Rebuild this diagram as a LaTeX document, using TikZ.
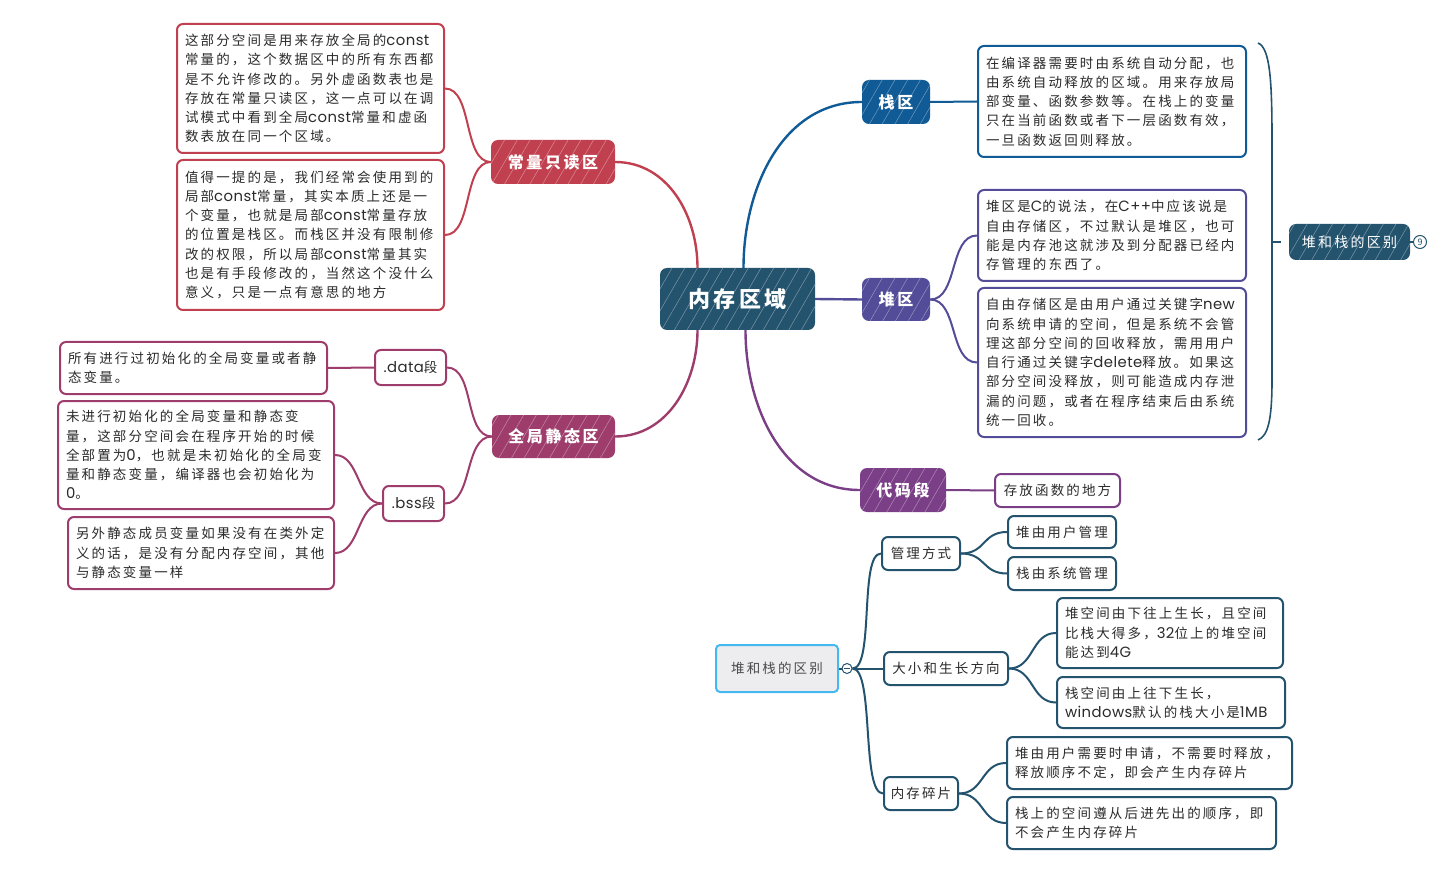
\documentclass[tikz,border=0pt]{standalone}
\usepackage{fontspec}
\setmainfont{Noto Sans CJK SC}[LetterSpace=16]
\newfontfamily\lat{Poppins}[Scale=1.1,LetterSpace=3]
\newcommand\la[1]{{\lat #1}}
\usetikzlibrary{patterns.meta}
\definecolor{cred}{HTML}{C1404F}
\definecolor{cmag}{HTML}{9E3C6C}
\definecolor{cblue}{HTML}{105A95}
\definecolor{cpur}{HTML}{534C98}
\definecolor{ccode}{HTML}{7B3F87}
\definecolor{cteal}{HTML}{24536E}
\definecolor{croot}{HTML}{EDECEF}
\definecolor{cedge}{HTML}{45B8F0}
\definecolor{ctext}{HTML}{2B2B2B}
\pgfdeclarelayer{bg}
\pgfsetlayers{bg,main}
\begin{document}
\begin{tikzpicture}[x=1pt,y=-1pt,
 hd/.style={fill=#1, rounded corners=7pt, text=white, inner sep=0pt,
   font=\bfseries\fontsize{16}{18}\selectfont,
   postaction={pattern={Lines[angle=60,distance=11pt,line width=0.5pt]}, pattern color=white!40!#1}},
 tb/.style={draw=#1, fill=white, line width=2pt, rounded corners=6pt, inner xsep=8pt, inner ysep=2pt,
   align=left, text=ctext, font=\fontsize{13.5}{19.3}\selectfont},
 sb/.style={draw=#1, fill=white, line width=2pt, rounded corners=6pt, inner sep=0pt,
   text=ctext, font=\fontsize{13.5}{16}\selectfont},
 ln/.style={draw=#1, line width=2.4pt},
 sl/.style={draw=#1, line width=2pt}]
\useasboundingbox (0,0) rectangle (1445,882);

% main topics
\node[hd=cteal, minimum width=155pt, minimum height=62pt, font=\bfseries\fontsize{22}{24}\selectfont] (c) at (737.5,299) {内存区域};
\node[hd=cred, minimum width=124pt, minimum height=44pt] (cr) at (553,162) {常量只读区};
\node[hd=cmag, minimum width=123pt, minimum height=43pt] (qj) at (553.5,436.5) {全局静态区};
\node[hd=cblue, minimum width=68pt, minimum height=44pt] (sz) at (896,102) {栈区};
\node[hd=cpur, minimum width=68pt, minimum height=43pt] (dz) at (896,299.5) {堆区};
\node[hd=ccode, minimum width=86pt, minimum height=44pt] (dm) at (903,490) {代码段};
\node[hd=cteal, minimum width=121pt, minimum height=36pt, font=\fontsize{14}{16}\selectfont] (sum) at (1349.5,242) {堆和栈的区别};
\node[circle, draw=cteal, fill=white, line width=1pt, minimum size=13pt, inner sep=0pt, text=cteal, font=\fontsize{9}{9}\selectfont] (num) at (1420,242) {9};

% red texts
\node[tb=cred, text width=251pt, minimum height=129pt] (t1) at (310.5,88.5) {这部分空间是用来存放全局的\la{const}\\常量的，这个数据区中的所有东西都\\是不允许修改的。另外虚函数表也是\\存放在常量只读区，这一点可以在调\\试模式中看到全局\la{const}常量和虚函\\数表放在同一个区域。};
\node[tb=cred, text width=251pt, minimum height=150pt] (t2) at (310.5,235) {值得一提的是，我们经常会使用到的\\局部\la{const}常量，其实本质上还是一\\个变量，也就是局部\la{const}常量存放\\的位置是栈区。而栈区并没有限制修\\改的权限，所以局部\la{const}常量其实\\也是有手段修改的，当然这个没什么\\意义，只是一点有意思的地方};

% magenta texts
\node[sb=cmag, minimum width=71pt, minimum height=35pt] (dd) at (410.5,367.5) {\la{.data}段};
\node[sb=cmag, minimum width=61pt, minimum height=35pt] (bs) at (413.5,503.5) {\la{.bss}段};
\node[tb=cmag, text width=251pt, minimum height=52pt] (d1) at (193.5,368) {所有进行过初始化的全局变量或者静\\态变量。};
\node[tb=cmag, text width=260pt, minimum height=108pt] (b1) at (196,455) {未进行初始化的全局变量和静态变\\量，这部分空间会在程序开始的时候\\全部置为\la{0}，也就是未初始化的全局变\\量和静态变量，编译器也会初始化为\\\la{0}。};
\node[tb=cmag, text width=250pt, minimum height=72pt] (b2) at (201,553) {另外静态成员变量如果没有在类外定\\义的话，是没有分配内存空间，其他\\与静态变量一样};

% blue / purple / code texts
\node[tb=cblue, text width=252pt, minimum height=111pt] (st) at (1112,101.5) {在编译器需要时由系统自动分配，也\\由系统自动释放的区域。用来存放局\\部变量、函数参数等。在栈上的变量\\只在当前函数或者下一层函数有效，\\一旦函数返回则释放。};
\node[tb=cpur, text width=252pt, minimum height=91pt] (h1) at (1112,235.5) {堆区是\la{C}的说法，在\la{C++}中应该说是\\自由存储区，不过默认是堆区，也可\\能是内存池这就涉及到分配器已经内\\存管理的东西了。};
\node[tb=cpur, text width=252pt, minimum height=149pt] (h2) at (1112,362.5) {自由存储区是由用户通过关键字\la{new}\\向系统申请的空间，但是系统不会管\\理这部分空间的回收释放，需用用户\\自行通过关键字\la{delete}释放。如果这\\部分空间没释放，则可能造成内存泄\\漏的问题，或者在程序结束后由系统\\统一回收。};
\node[sb=ccode, minimum width=125pt, minimum height=33pt] (cd) at (1057.5,490.5) {存放函数的地方};

% floating tree
\node[draw=cedge, fill=croot, line width=2pt, rounded corners=4pt, minimum width=122pt, minimum height=47pt, text=ctext!85, font=\fontsize{13.5}{16}\selectfont] (root) at (777,668.5) {堆和栈的区别};
\node[circle, draw=cteal, fill=white, line width=1pt, minimum size=10pt, inner sep=0pt] (col) at (847,668.5) {};
\node[sb=cteal, minimum width=78pt, minimum height=33pt] (gl) at (921,553.5) {管理方式};
\node[sb=cteal, minimum width=124pt, minimum height=33pt] (dx) at (946,668.5) {大小和生长方向};
\node[sb=cteal, minimum width=74pt, minimum height=33pt] (sp) at (921,793.5) {内存碎片};
\node[sb=cteal, minimum width=108pt, minimum height=32pt] (g1) at (1062,532) {堆由用户管理};
\node[sb=cteal, minimum width=108pt, minimum height=33pt] (g2) at (1062,573.5) {栈由系统管理};
\node[tb=cteal, text width=210pt, minimum height=70pt] (s1) at (1170,633) {堆空间由下往上生长，且空间\\比栈大得多，\la{32}位上的堆空间\\能达到\la{4G}};
\node[tb=cteal, text width=212pt, minimum height=51pt] (s2) at (1171,702.5) {栈空间由上往下生长，\\\la{windows}默认的栈大小是\la{1MB}};
\node[tb=cteal, text width=269pt, minimum height=52pt] (f1) at (1149.5,763) {堆由用户需要时申请，不需要时释放，\\释放顺序不定，即会产生内存碎片};
\node[tb=cteal, text width=253pt, minimum height=52pt] (f2) at (1141.5,823) {栈上的空间遵从后进先出的顺序，即\\不会产生内存碎片};
\draw[cteal, line width=1pt] ([xshift=2.5pt]col.west) -- ([xshift=-2.5pt]col.east);

% brace
\coordinate (bt) at (1258,43);
\coordinate (bb) at (1258,440);
\coordinate (bm) at (1272,242);

\begin{pgfonlayer}{bg}
\draw[ln=cred] ([xshift=-40pt]c.north) to[out=90,in=0] (cr.east);
\draw[ln=cblue] ([xshift=6pt]c.north) to[out=90,in=180] (sz.west);
\draw[ln=cpur] (c.east) -- (dz.west);
\draw[ln=cmag] ([xshift=-40pt]c.south) to[out=-90,in=0] (qj.east);
\draw[ln=ccode] ([xshift=8pt]c.south) to[out=-90,in=180] (dm.west);

\draw[sl=cred] (cr.west) to[out=180,in=0,distance=28pt] (t1.east);
\draw[sl=cred] (cr.west) to[out=180,in=0,distance=28pt] (t2.east);
\draw[sl=cblue] (sz.east) -- (st.west);
\draw[sl=cpur] (dz.east) to[out=0,in=180,distance=28pt] (h1.west);
\draw[sl=cpur] (dz.east) to[out=0,in=180,distance=28pt] (h2.west);
\draw[sl=ccode] (dm.east) -- (cd.west);
\draw[sl=cmag] (qj.west) to[out=180,in=0,distance=28pt] (dd.east);
\draw[sl=cmag] (qj.west) to[out=180,in=0,distance=28pt] (bs.east);
\draw[sl=cmag] (dd.west) -- (d1.east);
\draw[sl=cmag] (bs.west) to[out=180,in=0,distance=25pt] (b1.east);
\draw[sl=cmag] (bs.west) to[out=180,in=0,distance=25pt] (b2.east);

\draw[sl=cteal] (root.east) -- (col.west);
\draw[sl=cteal] (col.east) to[out=0,in=180,distance=22pt] (gl.west);
\draw[sl=cteal] (col.east) -- (dx.west);
\draw[sl=cteal] (col.east) to[out=0,in=180,distance=22pt] (sp.west);
\draw[sl=cteal] (gl.east) to[out=0,in=180,distance=25pt] (g1.west);
\draw[sl=cteal] (gl.east) to[out=0,in=180,distance=25pt] (g2.west);
\draw[sl=cteal] (dx.east) to[out=0,in=180,distance=25pt] (s1.west);
\draw[sl=cteal] (dx.east) to[out=0,in=180,distance=25pt] (s2.west);
\draw[sl=cteal] (sp.east) to[out=0,in=180,distance=25pt] (f1.west);
\draw[sl=cteal] (sp.east) to[out=0,in=180,distance=25pt] (f2.west);

\draw[cteal, line width=1.6pt] (bt) .. controls (1270,48) and (1272,80) .. (1272,140) -- (1272,380) .. controls (1272,420) and (1268,436) .. (bb);
\draw[cteal, line width=1.6pt] (bm) -- ([xshift=-8pt]sum.west);
\draw[cteal, line width=1.2pt] (sum.east) -- (num.west);
\end{pgfonlayer}
\end{tikzpicture}
\end{document}
